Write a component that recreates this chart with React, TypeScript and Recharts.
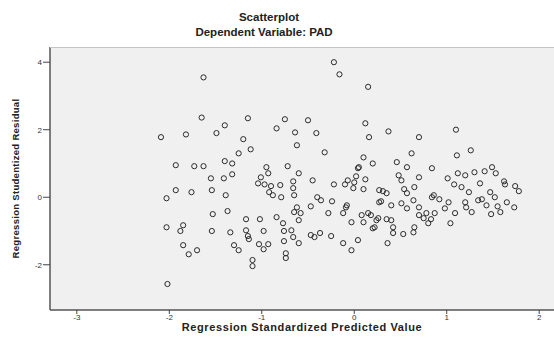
import React from 'react';
import { ScatterChart, Scatter, XAxis, YAxis, CartesianGrid } from 'recharts';

// predicted value (x) / studentized residual (y)
const predicted = [
  -0.22, -0.16, -1.63, 0.15, -1.65, -2.09, -1.82, -1.49, -1.93, -1.73,
  -1.63, -1.40, -1.15, -0.75, -0.50, -0.84, -0.64, -0.41, -1.20, -1.12,
  -1.25, -0.62, -0.32, 0.12, 0.16, 0.10, 0.20, 0.05, -1.40, -1.32,
  -0.95, -0.72, 0.37, 0.70, 1.10, 0.62, 1.11, 1.26, 0.46, 0.57,
  0.84, 1.49, -1.55, -1.93, -1.76, -1.54, -2.03, -1.53, -2.03, -1.85,
  -1.88, -1.54, -1.85, -1.79, -1.70, -2.02, -0.93, -0.60, -1.32, -1.41,
  -1.01, -1.04, -0.97, -0.90, -0.80, -0.66, -0.45, -0.22, -0.10, 0.00,
  0.02, 0.04, 0.12, -0.01, 0.10, -1.39, -0.92, -0.88, -0.79, -0.66,
  -0.65, -0.40, -0.36, -0.24, -0.09, -0.62, -0.65, -0.58, -0.60, -0.84,
  -1.37, -1.17, -1.02, -0.77, -1.34, -1.17, -1.15, -1.14, -0.98, -0.76,
  -0.66, -0.76, -0.60, -1.30, -1.25, -1.03, -0.93, -0.98, -0.74, -0.74,
  -1.10, -1.10, -0.43, -0.37, -0.25, -0.12, -0.03, 0.04, -0.08, 0.08,
  0.15, 0.10, 0.20, 0.24, 0.27, 0.27, 0.48, 0.51, 0.70, 1.01,
  1.12, 1.20, 1.30, 1.41, 1.53, 1.62, 1.63, 1.74, 1.78, 0.31,
  0.35, 0.54, 0.57, 0.65, 1.08, 1.16, 1.24, 1.36, 1.47, 1.52,
  0.84, 0.86, 0.92, 0.29, 0.40, 0.51, 0.57, 0.64, 0.70, 0.78,
  0.87, 0.98, 1.02, 1.09, 1.20, 1.21, 1.27, 1.34, 1.38, 1.43,
  1.48, 1.55, 1.58, 1.65, 1.73, 0.18, 0.35, 0.40, 0.22, 0.42,
  0.42, 0.53, 0.64, 0.65, 0.70, 0.75, 0.80, 0.83, 1.04, 0.36,
  -0.47, -0.07, -0.28, -0.12, -0.03, 0.26, -0.68, -0.47,
];

const residual = [
  4.00, 3.64, 3.55, 3.27, 2.36, 1.78, 1.86, 1.90, 0.95, 0.92,
  0.92, 2.13, 2.34, 2.31, 2.28, 2.04, 1.92, 1.90, 1.72, 1.42,
  1.30, 1.54, 1.33, 2.19, 1.78, 1.18, 1.00, 0.89, 1.07, 1.00,
  0.89, 0.92, 1.95, 1.78, 2.00, 1.30, 1.24, 1.39, 1.04, 0.89,
  0.86, 0.89, 0.56, 0.21, 0.15, 0.21, -0.03, -0.50, -0.89, -0.83,
  -1.00, -1.00, -1.42, -1.69, -1.57, -2.57, 0.71, 0.71, 0.68, 0.56,
  0.59, 0.41, 0.38, 0.33, 0.36, 0.47, 0.50, 0.38, 0.38, 0.44,
  0.62, 0.86, 0.53, 0.27, 0.24, 0.06, 0.15, 0.06, 0.00, 0.27,
  0.06, 0.00, -0.09, -0.12, -0.30, -0.30, -0.44, -0.47, -0.68, -0.59,
  -0.41, -0.65, -0.65, -0.77, -1.04, -0.98, -1.15, -1.24, -1.00, -1.00,
  -1.18, -1.30, -1.36, -1.42, -1.57, -1.39, -1.39, -1.54, -1.66, -1.80,
  -1.86, -2.04, -1.18, -1.06, -1.15, -1.36, -1.57, -1.27, -0.24, -0.53,
  -0.47, -0.74, -0.92, -0.68, 0.21, -0.15, 0.65, 0.50, 0.59, 0.56,
  0.71, 0.65, 0.74, 0.77, 0.71, 0.47, 0.38, 0.33, 0.18, 0.18,
  0.12, 0.24, 0.12, 0.30, 0.38, 0.30, 0.15, 0.41, 0.15, 0.00,
  0.00, 0.06, -0.06, -0.12, -0.24, -0.18, -0.33, -0.09, -0.30, -0.47,
  -0.47, -0.33, -0.15, -0.47, -0.15, -0.30, -0.44, -0.09, -0.06, -0.24,
  -0.50, -0.27, -0.44, -0.15, -0.30, -0.53, -0.65, -0.68, -0.89, -0.89,
  -1.06, -1.09, -1.04, -0.89, -0.53, -0.62, -0.77, -0.65, -0.77, -1.36,
  -0.27, 0.50, -0.47, -0.47, -0.74, -0.62, -0.98, -1.12,
];

const xTicks = [-3, -2, -1, 0, 1, 2];
const yTicks = [-2, 0, 2, 4];

const points = predicted.map((x, i) => ({ x, y: residual[i] }));

const font = '"Liberation Sans", Arial, sans-serif';

const Ring = (props: any) => (
  <circle cx={props.cx} cy={props.cy} r={2.6} fill="none" stroke="#2b2b2b" strokeWidth={1} />
);

export default function App() {
  return (
    <div style={{ position: 'absolute', left: 0, top: 0, width: 554, height: 344, background: '#fff', fontFamily: font }}>
      <div style={{ position: 'absolute', left: 0, width: 538, top: 11, textAlign: 'center', fontSize: 11.5, fontWeight: 'bold', color: '#222' }}>
        Scatterplot
      </div>
      <div style={{ position: 'absolute', left: 0, width: 528, top: 26, textAlign: 'center', fontSize: 11.5, fontWeight: 'bold', color: '#222' }}>
        Dependent Variable: PAD
      </div>
      <ScatterChart width={554} height={344} margin={{ top: 47, right: 0, left: 0, bottom: 0 }}>
        <CartesianGrid fill="#f0f0f0" horizontal={false} vertical={false} />
        <XAxis
          type="number"
          dataKey="x"
          domain={[-3.29, 2.16]}
          ticks={xTicks}
          allowDataOverflow
          height={34}
          tickSize={4}
          tickMargin={0}
          axisLine={{ stroke: '#555', strokeWidth: 1.5 }}
          tickLine={{ stroke: '#444' }}
          tick={{ fontSize: 8, fill: '#333', fontFamily: font }}
          label={{ value: 'Regression Standardized Predicted Value', position: 'insideBottom', offset: 13, fontSize: 11, fontWeight: 'bold', fill: '#222', fontFamily: font, letterSpacing: 0.6 }}
        />
        <YAxis
          type="number"
          dataKey="y"
          domain={[-3.34, 4.45]}
          ticks={yTicks}
          allowDataOverflow
          width={50}
          tickSize={7}
          tickMargin={1}
          axisLine={{ stroke: '#555', strokeWidth: 1.5 }}
          tickLine={{ stroke: '#444' }}
          tick={{ fontSize: 8, fill: '#333', fontFamily: font }}
          label={{ value: 'Regression Studentized Residual', angle: -90, position: 'insideLeft', offset: 16, fontSize: 9.5, fontWeight: 'bold', fill: '#222', fontFamily: font, letterSpacing: 0.3, style: { textAnchor: 'middle' } }}
        />
        <Scatter data={points} shape={Ring} isAnimationActive={false} />
      </ScatterChart>
      <div style={{ position: 'absolute', left: 50, top: 47, width: 504, height: 1, background: '#c4c4c4' }} />
    </div>
  );
}
